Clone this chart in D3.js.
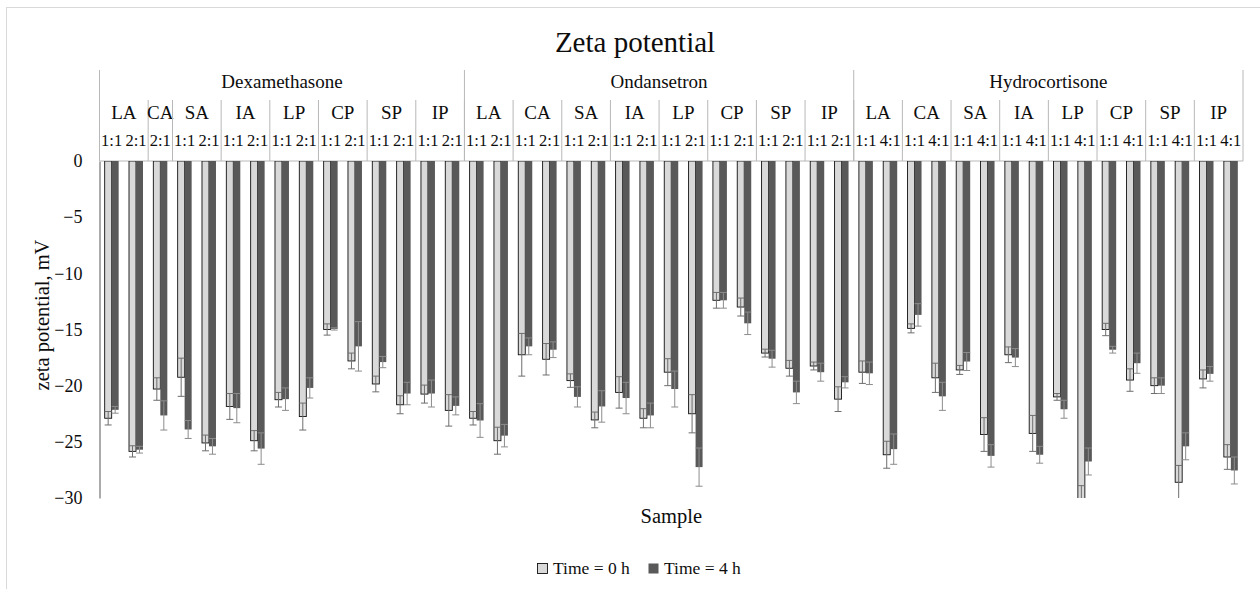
<!DOCTYPE html>
<html>
<head>
<meta charset="utf-8">
<script src="https://cdn.jsdelivr.net/npm/d3@7"></script>
<style>
  body { margin: 0; background: #fff; }
  svg { display: block; font-family: "Liberation Serif", serif; }
</style>
</head>
<body>
<div id="chart"></div>
<script>
// drug / carrier / ratio of every sample, in plot order
const drugs = ["Dexamethasone", "Ondansetron", "Hydrocortisone"];
const sampleDrug = [
  0,0,0,0,0,0,0,0,0,0,0,0,0,0,0,
  1,1,1,1,1,1,1,1,1,1,1,1,1,1,1,1,
  2,2,2,2,2,2,2,2,2,2,2,2,2,2,2,2
];
const sampleCarrier = [
  "LA","LA","CA","SA","SA","IA","IA","LP","LP","CP","CP","SP","SP","IP","IP",
  "LA","LA","CA","CA","SA","SA","IA","IA","LP","LP","CP","CP","SP","SP","IP","IP",
  "LA","LA","CA","CA","SA","SA","IA","IA","LP","LP","CP","CP","SP","SP","IP","IP"
];
const sampleRatio = [
  "1:1","2:1","2:1","1:1","2:1","1:1","2:1","1:1","2:1","1:1","2:1","1:1","2:1","1:1","2:1",
  "1:1","2:1","1:1","2:1","1:1","2:1","1:1","2:1","1:1","2:1","1:1","2:1","1:1","2:1","1:1","2:1",
  "1:1","4:1","1:1","4:1","1:1","4:1","1:1","4:1","1:1","4:1","1:1","4:1","1:1","4:1","1:1","4:1"
];

// zeta potential (mV), mean and error, Time = 0 h
const time0 = [
  -22.9, -25.85, -20.3, -19.25, -25.1, -21.85, -24.9, -21.25, -22.75, -15.0, -17.8, -19.85, -21.7, -20.75, -22.2,
  -22.9, -24.9, -17.25, -17.65, -19.55, -23.05, -20.6, -22.9, -18.8, -22.5, -12.4, -13.0, -17.1, -18.45, -18.25, -21.2,
  -18.8, -26.15, -14.9, -19.3, -18.6, -24.35, -17.25, -24.25, -21.0, -30.4, -15.0, -19.5, -20.0, -28.6, -19.4, -26.35
];
const time0Err = [
  0.6, 0.5, 1.0, 1.7, 0.7, 1.15, 0.9, 0.65, 1.2, 0.5, 0.7, 0.7, 0.8, 0.8, 1.4,
  0.6, 1.2, 1.9, 1.4, 0.6, 0.7, 1.4, 0.85, 1.2, 1.7, 0.7, 0.8, 0.35, 0.7, 0.35, 1.1,
  1.0, 1.2, 0.4, 1.3, 0.4, 1.5, 0.7, 1.6, 0.3, 1.5, 0.55, 1.0, 0.7, 1.5, 0.8, 1.1
];
// Time = 4 h
const time4 = [
  -22.15, -25.7, -22.65, -23.9, -25.4, -22.0, -25.6, -21.2, -20.2, -14.95, -16.5, -17.9, -20.7, -20.7, -21.8,
  -23.1, -24.45, -16.5, -16.8, -21.0, -21.85, -21.1, -22.65, -20.3, -27.25, -12.4, -14.45, -17.6, -20.6, -18.8, -19.7,
  -18.9, -25.65, -13.7, -20.95, -17.85, -26.25, -17.5, -26.15, -22.1, -26.75, -16.8, -18.0, -20.0, -25.4, -18.95, -27.55
];
const time4Err = [
  0.3, 0.3, 1.3, 0.8, 0.7, 1.3, 1.4, 1.0, 0.9, 0.1, 2.2, 0.5, 1.0, 1.2, 0.8,
  1.5, 1.0, 0.75, 0.7, 0.9, 1.4, 1.4, 1.1, 1.6, 1.7, 0.7, 1.0, 0.75, 1.0, 0.8, 0.5,
  1.0, 1.35, 1.0, 1.25, 0.8, 1.0, 0.8, 0.75, 0.8, 1.2, 0.3, 0.9, 0.7, 1.2, 0.65, 1.2
];

const seriesNames = ["Time = 0 h", "Time = 4 h"];
const seriesFill = ["#d9d9d9", "#595959"];
const yTicks = [0, -5, -10, -15, -20, -25, -30];

const width = 1260, height = 589;
const plot = { left: 99.5, right: 1243, top: 161, bottom: 498 };
const LINE = "#b8b8b8";
const TEXT = "#0d0d0d";

const svg = d3.select("#chart").append("svg")
  .attr("width", width)
  .attr("height", height);

// chart area frame (runs off the right / bottom edge)
svg.append("rect")
  .attr("x", 6.5).attr("y", 7.5)
  .attr("width", width).attr("height", height)
  .attr("fill", "none").attr("stroke", "#d9d9d9");

const idx = d3.range(sampleDrug.length);

const x = d3.scaleBand()
  .domain(idx)
  .range([plot.left, plot.right])
  .padding(0);

const xSeries = d3.scaleBand()
  .domain([0, 1])
  .range([0, x.bandwidth()])
  .paddingInner(0)
  .paddingOuter(0.74);

const y = d3.scaleLinear()
  .domain([-30, 0])
  .range([plot.bottom, plot.top]);

// title
svg.append("text")
  .attr("x", 635).attr("y", 52)
  .attr("text-anchor", "middle")
  .style("font-size", "29px")
  .attr("fill", TEXT)
  .text("Zeta potential");

// y axis
const yAxis = svg.append("g")
  .attr("transform", `translate(${plot.left},0)`)
  .call(d3.axisLeft(y).tickValues(yTicks).tickSize(0).tickSizeOuter(0).tickPadding(17));
yAxis.select(".domain").attr("stroke", "#595959");
yAxis.selectAll("text")
  .style("font-family", "Liberation Serif, serif")
  .style("font-size", "18px")
  .attr("fill", TEXT);

svg.append("text")
  .attr("transform", `translate(49,315) rotate(-90)`)
  .attr("text-anchor", "middle")
  .style("font-size", "20.5px")
  .attr("fill", TEXT)
  .text("zeta potential, mV");

// multi level category header above the zero line
const header = svg.append("g");

header.append("line")
  .attr("x1", plot.left).attr("x2", plot.right)
  .attr("y1", y(0)).attr("y2", y(0))
  .attr("stroke", LINE);

// runs of equal keys -> [start, end) index ranges
function runs(key) {
  const out = [];
  idx.forEach(i => {
    const k = key(i);
    if (out.length && out[out.length - 1].key === k) out[out.length - 1].end = i + 1;
    else out.push({ key: k, start: i, end: i + 1 });
  });
  return out;
}

const drugRuns = runs(i => sampleDrug[i]);
const carrierRuns = runs(i => sampleDrug[i] + "|" + sampleCarrier[i]);

const edge = i => i < idx.length ? x(i) : plot.right;

carrierRuns.forEach(r => {
  header.append("line")
    .attr("x1", edge(r.start)).attr("x2", edge(r.start))
    .attr("y1", 100).attr("y2", y(0))
    .attr("stroke", LINE);
  header.append("text")
    .attr("x", (edge(r.start) + edge(r.end)) / 2)
    .attr("y", 119)
    .attr("text-anchor", "middle")
    .style("font-size", "19px")
    .attr("fill", TEXT)
    .text(r.key.split("|")[1]);
});

drugRuns.forEach(r => {
  header.append("line")
    .attr("x1", edge(r.start)).attr("x2", edge(r.start))
    .attr("y1", 70).attr("y2", y(0))
    .attr("stroke", LINE);
  header.append("text")
    .attr("x", (edge(r.start) + edge(r.end)) / 2)
    .attr("y", 88)
    .attr("text-anchor", "middle")
    .style("font-size", "19px")
    .attr("fill", TEXT)
    .text(drugs[r.key]);
});
header.append("line")
  .attr("x1", plot.right).attr("x2", plot.right)
  .attr("y1", 70).attr("y2", y(0))
  .attr("stroke", LINE);

header.selectAll("text.ratio")
  .data(idx)
  .join("text")
  .attr("class", "ratio")
  .attr("x", i => x(i) + x.bandwidth() / 2)
  .attr("y", 146)
  .attr("text-anchor", "middle")
  .style("font-size", "16.5px")
  .attr("fill", TEXT)
  .text(i => sampleRatio[i]);

// bars + error bars, clipped at the axis minimum
svg.append("clipPath").attr("id", "plotclip")
  .append("rect")
  .attr("x", plot.left).attr("y", plot.top)
  .attr("width", plot.right - plot.left).attr("height", plot.bottom - plot.top);

const marks = svg.append("g").attr("clip-path", "url(#plotclip)");

const series = [
  { values: time0, errs: time0Err },
  { values: time4, errs: time4Err }
];

series.forEach((s, si) => {
  const bw = xSeries.bandwidth();
  const g = marks.append("g");

  g.selectAll("rect")
    .data(idx)
    .join("rect")
    .attr("x", i => x(i) + xSeries(si))
    .attr("y", y(0))
    .attr("width", bw)
    .attr("height", i => y(s.values[i]) - y(0))
    .attr("fill", seriesFill[si])
    .attr("stroke", si === 0 ? "#111" : "none")
    .attr("stroke-width", 0.9);

  const eb = g.selectAll("g.err")
    .data(idx)
    .join("g")
    .attr("class", "err")
    .attr("stroke", si === 0 ? "#6e6e6e" : "#8c8c8c")
    .attr("stroke-width", 1);
  const cx = i => x(i) + xSeries(si) + bw / 2;
  eb.append("line")
    .attr("x1", cx).attr("x2", cx)
    .attr("y1", i => y(s.values[i] + s.errs[i]))
    .attr("y2", i => y(s.values[i] - s.errs[i]));
  [1, -1].forEach(sign => {
    eb.append("line")
      .attr("x1", i => cx(i) - bw / 2).attr("x2", i => cx(i) + bw / 2)
      .attr("y1", i => y(s.values[i] + sign * s.errs[i]))
      .attr("y2", i => y(s.values[i] + sign * s.errs[i]));
  });
});

// x axis title
svg.append("text")
  .attr("x", (plot.left + plot.right) / 2).attr("y", 523)
  .attr("text-anchor", "middle")
  .style("font-size", "20.5px")
  .attr("fill", TEXT)
  .text("Sample");

// legend
const legend = svg.append("g").attr("transform", "translate(537,563)");
const legendX = [0, 111];
seriesNames.forEach((name, i) => {
  const item = legend.append("g").attr("transform", `translate(${legendX[i]},0)`);
  item.append("rect")
    .attr("x", 0.5).attr("y", 0.5)
    .attr("width", 10).attr("height", 10)
    .attr("fill", seriesFill[i])
    .attr("stroke", i === 0 ? "#111" : "none")
    .attr("stroke-width", 0.9);
  item.append("text")
    .attr("x", 16).attr("y", 10.5)
    .style("font-size", "17.5px")
    .attr("fill", TEXT)
    .text(name);
});
</script>
</body>
</html>
